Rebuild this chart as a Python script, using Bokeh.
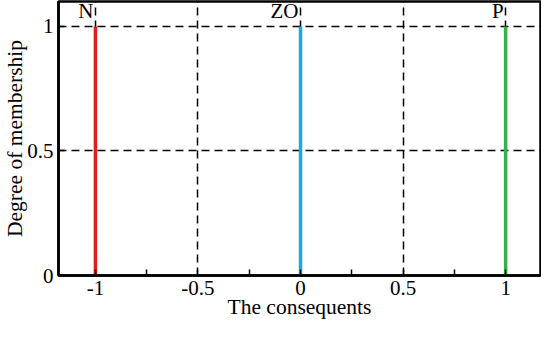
from bokeh.plotting import figure
from bokeh.models import FixedTicker, Range1d, ColumnDataSource
from bokeh.core.properties import value
from bokeh.embed import file_html
from bokeh.resources import INLINE

# data
set_names = ["N", "ZO", "P"]
set_centers = [-1.0, 0.0, 1.0]
set_heights = [1.0, 1.0, 1.0]
set_colors = ["#e41a1c", "#1aa9e6", "#3aae49"]
x_ticks = [-1, -0.5, 0, 0.5, 1]
x_minor = [-0.75, -0.25, 0.25, 0.75]
y_ticks = [0, 0.5, 1]
x_title = "The consequents"
y_title = "Degree of membership"

FONT = "Liberation Serif"

p = figure(frame_width=482, height=321, output_backend="svg", toolbar_location=None,
           x_range=Range1d(-1.18, 1.17), y_range=Range1d(0, 1.1),
           min_border_top=1, min_border_right=1, min_border_left=0, min_border_bottom=0)

p.xaxis.ticker = FixedTicker(ticks=x_ticks, minor_ticks=x_minor)
p.yaxis.ticker = FixedTicker(ticks=y_ticks)
p.xaxis.major_label_overrides = {-1: "-1", -0.5: "-0.5", 0: "0", 0.5: "0.5", 1: "1"}
p.yaxis.major_label_overrides = {0: "0", 0.5: "0.5", 1: "1"}

for ax in (p.xaxis[0], p.yaxis[0]):
    ax.major_label_text_font = FONT
    ax.major_label_text_font_size = "21px"
    ax.major_label_text_color = "black"
    ax.axis_label_text_font = FONT
    ax.axis_label_text_font_size = "21.5px"
    ax.axis_label_text_font_style = "normal"
    ax.axis_label_text_color = "black"
    ax.axis_line_width = 2.5
    ax.axis_line_color = "black"
    ax.major_tick_in = 6
    ax.major_tick_out = 0
    ax.major_tick_line_width = 1.5
    ax.minor_tick_in = 6
    ax.minor_tick_out = 0
    ax.minor_tick_line_width = 1.5

p.yaxis.minor_tick_line_color = None
p.xaxis.axis_label = x_title
p.yaxis.axis_label = y_title
p.xaxis.axis_label_standoff = -3
p.yaxis.axis_label_standoff = -3
p.xaxis.major_label_standoff = 5
p.yaxis.major_label_standoff = 5

p.xgrid.ticker = FixedTicker(ticks=x_ticks)
p.ygrid.ticker = FixedTicker(ticks=[0.5, 1])
for g in (p.xgrid[0], p.ygrid[0]):
    g.grid_line_color = "black"
    g.grid_line_dash = "8 5"
    g.grid_line_width = 1.5
    g.grid_line_alpha = 1

p.outline_line_color = "black"
p.outline_line_width = 2.5
p.outline_line_alpha = 1

src = ColumnDataSource(dict(x=set_centers, y0=[0] * 3, y1=set_heights,
                            c=set_colors, name=set_names))
p.segment(x0="x", y0="y0", x1="x", y1="y1", color="c", line_width=3.5, source=src)
p.text(x="x", y="y1", text="name", source=src, text_align="right",
       text_baseline="bottom", x_offset=-2, y_offset=-3,
       text_font=value(FONT), text_font_size="21px", text_color="black")

open("out.html", "w").write(file_html(p, INLINE))
